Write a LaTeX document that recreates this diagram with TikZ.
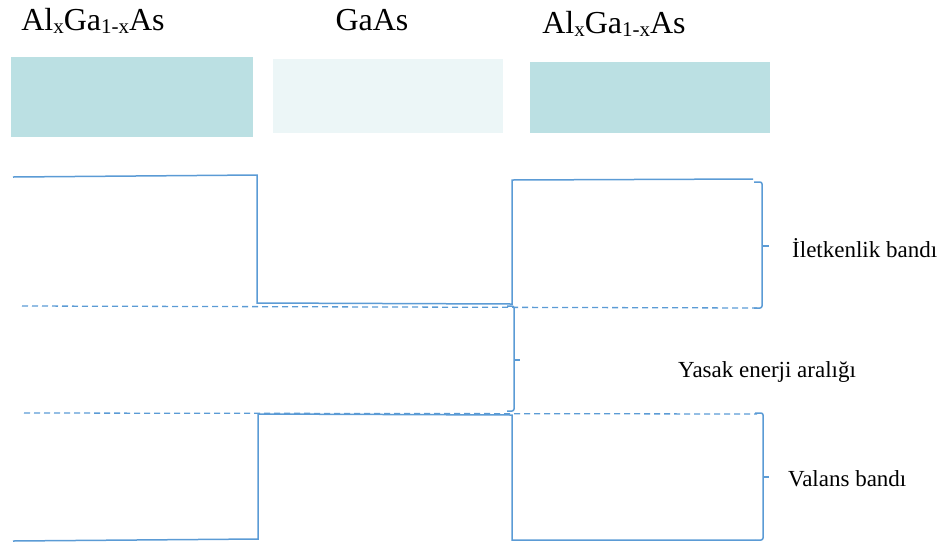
\documentclass[tikz,border=0pt]{standalone}
\usepackage{fontspec}
\setmainfont{Liberation Serif}
\definecolor{band}{HTML}{5B9BD5}
\definecolor{barrier}{HTML}{BBE0E3}
\definecolor{well}{HTML}{ECF6F7}
\newcommand{\layersub}[1]{\raisebox{-3pt}{\fontsize{21}{21}\selectfont #1}}
\begin{document}
\begin{tikzpicture}[x=1pt,y=-1pt,
  bandline/.style={draw=band,line width=1.5pt},
  edgeline/.style={draw=band,line width=1.3pt,dash pattern=on 6pt off 4pt},
  brace/.style={draw=band,line width=1.5pt,rounded corners=2pt},
  layertitle/.style={font=\fontsize{32}{36}\selectfont,inner sep=0pt,anchor=base},
  bandtitle/.style={font=\fontsize{23}{26}\selectfont,inner sep=0pt,anchor=west}]
\useasboundingbox (0,0) rectangle (948,542);

% layer titles
\node[layertitle] (tl) at (93,30) {Al\layersub{x}Ga\layersub{1-x}As};
\node[layertitle] (tm) at (372,30) {GaAs};
\node[layertitle] (tr) at (614,33) {Al\layersub{x}Ga\layersub{1-x}As};

% layer blocks
\fill[barrier] (11,57) rectangle (253,137);
\fill[well] (273,59) rectangle (503,133);
\fill[barrier] (530,62) rectangle (770,133);

% band edge reference levels
\draw[edgeline] (22,306) -- (757,308);
\draw[edgeline] (24,413) -- (757,414);

% conduction band profile
\draw[bandline] (13,177) -- (257,175) -- (257,303) -- (512,304) -- (512,180) -- (753,179);

% valence band profile
\draw[bandline] (13,541) -- (258,539) -- (258,414) -- (512,415) -- (512,540) -- (755,540);

% braces
\draw[brace] (754,182) -- (762,182) -- (762,308) -- (754,308);
\draw[bandline] (762,246) -- (769,246);
\draw[brace] (507,306) -- (514,306) -- (514,411) -- (507,411);
\draw[bandline] (514,360) -- (520,360);
\draw[brace] (755,413) -- (763,413) -- (763,540) -- (755,540);
\draw[bandline] (763,477) -- (769,477);

% band labels
\node[bandtitle] (cb) at (792,248) {İletkenlik bandı};
\node[bandtitle] (gap) at (678,372) {Yasak enerji aralığı};
\node[bandtitle] (vb) at (788,479) {Valans bandı};
\end{tikzpicture}
\end{document}
